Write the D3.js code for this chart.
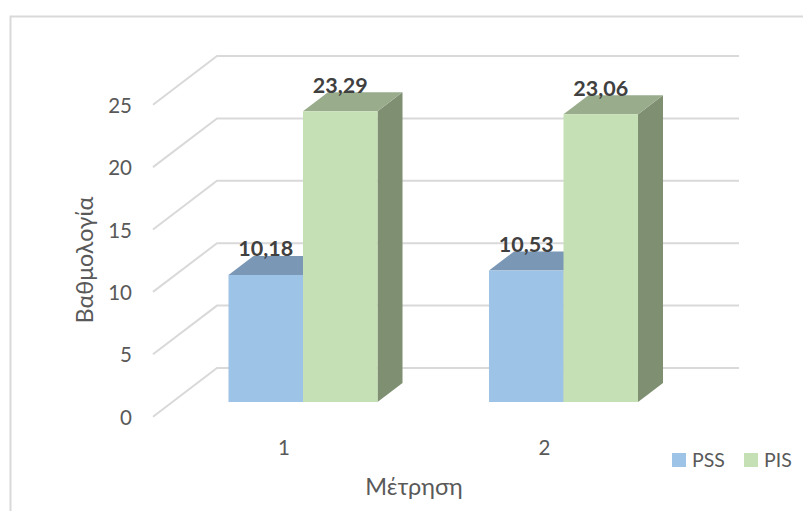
<!DOCTYPE html>
<html><head><meta charset="utf-8">
<script src="https://cdn.jsdelivr.net/npm/d3@7/dist/d3.min.js"></script>
<style>html,body{margin:0;padding:0;background:#fff}svg{display:block}text{font-family:Lato,"Open Sans","Noto Sans",sans-serif}</style>
</head><body><svg id="c" width="803" height="511"></svg>
<script>
const categories = ["1","2"];
const seriesNames = ["PSS","PIS"];
const pssValues = [10.18,10.53];
const pisValues = [23.29,23.06];
const yTicks = [0,5,10,15,20,25];
const yTitle = "Βαθμολογία";
const xTitle = "Μέτρηση";
const colors = {PSS:{front:"#9DC3E6",top:"#7A97B5",side:"#6F8AA6"},PIS:{front:"#C5E0B4",top:"#99AC8C",side:"#7E8F72"}};
const textCol="#595959", labelCol="#404040", gridCol="#D9D9D9";

const svg=d3.select("#c");
// frame
svg.append("path").attr("d","M10.5,511V16.5H803").attr("fill","none").attr("stroke",gridCol).attr("stroke-width",2);

const unit=12.48;
const yBar=d3.scaleLinear().domain([0,25]).range([402,402-25*unit]);
const floorBackY=368, floorFrontY=416.7, wallX=217, frontX=153, gridRight=739;
const yBack=d3.scaleLinear().domain([0,25]).range([floorBackY,floorBackY-25*unit]);
const yFront=d3.scaleLinear().domain([0,25]).range([floorFrontY,floorFrontY-25*unit]);
const x0=d3.scaleBand().domain(categories).range([172.75,693.75]);
const x1=d3.scaleBand().domain(seriesNames).range([0,x0.bandwidth()]).paddingInner(0).paddingOuter(0.748);
const depthX=25, depthY=19;

// grid
svg.append("g").selectAll("path").data(yTicks).join("path")
 .attr("d",d=>`M${frontX},${yFront(d)}L${wallX},${yBack(d)}H${gridRight}`)
 .attr("fill","none").attr("stroke",gridCol).attr("stroke-width",2);

// y tick labels
svg.append("g").selectAll("text").data(yTicks).join("text")
 .attr("x",132).attr("y",d=>yFront(d)+8).attr("text-anchor","end")
 .attr("font-size",20.5).attr("fill",textCol).text(d=>d);

// x tick labels
svg.append("g").selectAll("text").data(categories).join("text")
 .attr("x",d=>x0(d)+x0.bandwidth()/2-19).attr("y",455).attr("text-anchor","middle")
 .attr("font-size",20.5).attr("fill",textCol).text(d=>d);

// bars
const vals={PSS:pssValues,PIS:pisValues};
const bars=[];
seriesNames.forEach(s=>categories.forEach((c,i)=>bars.push({s,c,i,v:vals[s][i]})));
const g=svg.append("g");
const bx=d=>x0(d.c)+x1(d.s), bw=x1.bandwidth();
bars.forEach(d=>{
  const x=bx(d),y=yBar(d.v),b=yBar(0),col=colors[d.s];
  g.append("path").attr("fill",col.side)
   .attr("d",`M${x+bw},${y}L${x+bw+depthX},${y-depthY}V${b-depthY}L${x+bw},${b}Z`);
  g.append("path").attr("fill",col.top)
   .attr("d",`M${x},${y}L${x+depthX},${y-depthY}H${x+bw+depthX}L${x+bw},${y}Z`);
  g.append("rect").attr("x",x).attr("y",y).attr("width",bw).attr("height",b-y).attr("fill",col.front);
});
// data labels
svg.append("g").selectAll("text").data(bars).join("text")
 .attr("x",d=>bx(d)+bw/2)
 .attr("y",d=>yBar(d.v)-18.5)
 .attr("text-anchor","middle").attr("font-size",21.5).attr("font-weight",700).attr("fill",labelCol)
 .text(d=>d.v.toFixed(2).replace(".",","));

// axis titles
svg.append("text").attr("x",414).attr("y",495).attr("text-anchor","middle")
 .attr("font-size",23.5).attr("fill",textCol).text(xTitle);
svg.append("text").attr("transform","translate(93,260) rotate(-90)").attr("text-anchor","middle")
 .attr("font-size",23.4).attr("fill",textCol).text(yTitle);

// legend
const legendX={PSS:672,PIS:744};
const lg=svg.append("g").selectAll("g").data(seriesNames).join("g").attr("transform",d=>`translate(${legendX[d]},453)`);
lg.append("rect").attr("width",14).attr("height",14).attr("fill",d=>colors[d].front);
lg.append("text").attr("x",20).attr("y",14).attr("font-size",19.5).attr("fill",textCol).text(d=>d);
</script></body></html>
